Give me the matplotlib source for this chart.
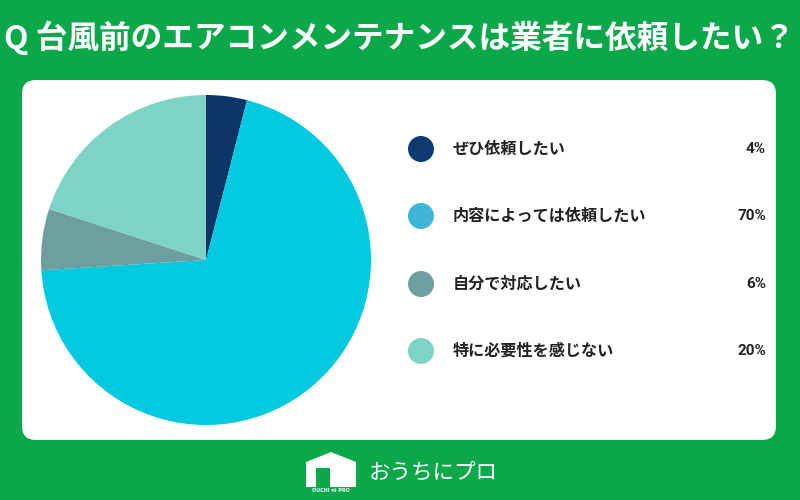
import matplotlib.pyplot as plt
from matplotlib.patches import FancyBboxPatch, Circle, Polygon, Rectangle

plt.rcParams['font.family'] = ['Noto Sans CJK JP', 'DejaVu Sans']

title = "Q 台風前のエアコンメンテナンスは業者に依頼したい？"
labels = ["ぜひ依頼したい", "内容によっては依頼したい", "自分で対応したい", "特に必要性を感じない"]
values = [4, 70, 6, 20]
pie_colors = ["#0D3567", "#00C9E0", "#6E9FA0", "#7DD3C4"]
dot_colors = ["#0D3A70", "#3FB6D8", "#6E9FA0", "#7DD3C4"]

GREEN = "#0BA84A"

fig = plt.figure(figsize=(8, 5), dpi=100)
fig.patch.set_facecolor(GREEN)

# background layer in pixel coordinates
bg = fig.add_axes([0, 0, 1, 1])
bg.set_xlim(0, 800)
bg.set_ylim(500, 0)
bg.axis("off")

panel = FancyBboxPatch((34, 92), 730, 336, boxstyle="round,pad=12,rounding_size=14",
                       facecolor="white", edgecolor="none")
bg.add_patch(panel)

bg.text(4, 38, title, color="white", fontsize=22.8, fontweight="bold", va="center", ha="left")

# legend
ys = [149, 216, 284, 351]
for y, lab, val, c in zip(ys, labels, values, dot_colors):
    bg.add_patch(Circle((421, y), 13, facecolor=c, edgecolor="none"))
    bg.text(453, y, lab, fontsize=11.6, fontweight="bold", va="center", ha="left", color="#222222")
    bg.text(766, y, f"{val}%", fontsize=11, fontweight="bold", va="center", ha="right",
            color="#222222", family=["Roboto", "DejaVu Sans"])

# logo
bg.add_patch(Polygon([(306, 487), (306, 462), (331, 452), (356, 462), (356, 487)],
                     closed=True, facecolor="white", edgecolor="none"))
bg.add_patch(Rectangle((316, 468), 14, 19, facecolor=GREEN, edgecolor="none"))
bg.text(331, 491, "OUCHI ni PRO", color="white", fontsize=3.5, ha="center", va="center",
        fontweight="bold", family=["DejaVu Sans"])
bg.text(369, 474, "おうちにプロ", color="white", fontsize=15.5, ha="left", va="center")

# pie
ax = fig.add_axes([41 / 800, (500 - 425) / 500, 330 / 800, 330 / 500])
ax.pie(values, colors=pie_colors, startangle=90, counterclock=False, radius=1,
       wedgeprops={"linewidth": 0})
ax.set_xlim(-1, 1)
ax.set_ylim(-1, 1)
ax.set_aspect("equal")
ax.axis("off")

fig.savefig("out.png", dpi=100, facecolor=GREEN)
